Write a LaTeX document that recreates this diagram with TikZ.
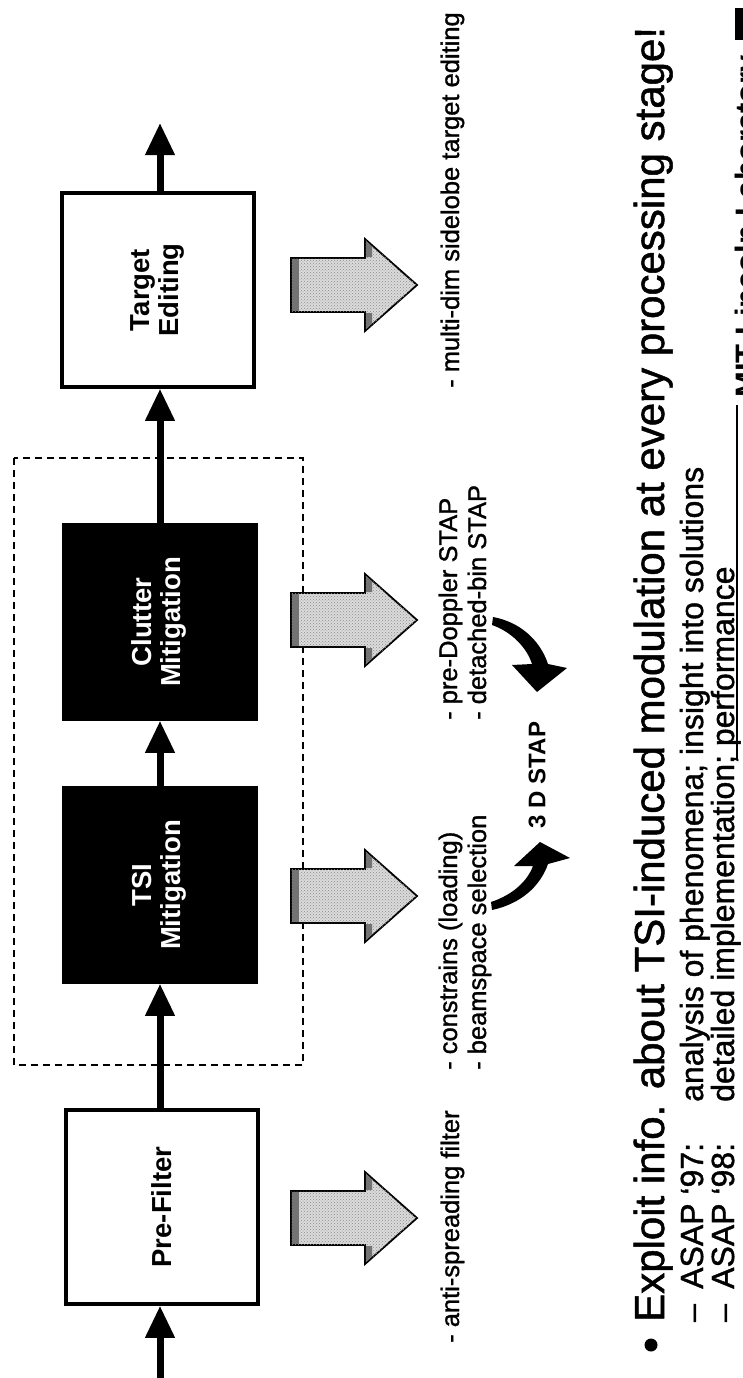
\documentclass[tikz,border=0pt]{standalone}
\usepackage{fontspec}
\setmainfont{Liberation Sans}
\newfontfamily\heavy[FakeBold=1.2]{Liberation Sans}
\usepackage{graphicx}
\usetikzlibrary{arrows.meta,patterns}
\newcommand\blkarrow[1]{%
  \draw[blk] (291,#1-27) -- (365,#1-27) -- (365,#1-46) -- (417,#1) -- (365,#1+46) -- (365,#1+27) -- (291,#1+27) -- cycle;
  \fill[black!55] (292,#1-26) rectangle (299,#1+26);
  \fill[black!55] (366,#1-44) -- (372,#1-38.5) -- (372,#1-28) -- (366,#1-28) -- cycle;
  \fill[black!55] (366,#1+44) -- (372,#1+38.5) -- (372,#1+28) -- (366,#1+28) -- cycle;
}
\begin{document}
\begin{tikzpicture}[x=1pt,y=-1pt,
  box/.style={draw=black,line width=3.5pt,minimum width=192pt,minimum height=194pt,inner sep=0pt,fill=white,
    font=\fontsize{27.5}{31}\selectfont\bfseries},
  darkbox/.style={box,fill=black,text=white},
  conn/.style={line width=7pt,-{Triangle[length=32pt,width=28pt]}},
  lbl/.style={rotate=90,anchor=base west,inner sep=0pt,font=\fontsize{25.5}{29}\heavy},
  sub/.style={rotate=90,anchor=base west,inner sep=0pt,font=\fontsize{32}{36}\heavy},
  blk/.style={draw=black,line width=1.8pt,fill=black!14,line join=miter,
    postaction={pattern=crosshatch dots,pattern color=black!45}},
  grp/.style={draw=black,line width=1.6pt,dash pattern=on 7pt off 5pt}
]
\useasboundingbox (0,0) rectangle (743,1378);
\clip (0,0) rectangle (743,1378);
\fill[white] (0,0) rectangle (743,1378);

% dashed group
\draw[grp] (14,458) rectangle (303,1065);

% boxes
\node[box] (tgt) at (158,290) {\rotatebox{90}{\begin{tabular}{@{}c@{}}Target\\[-2pt]Editing\end{tabular}}};
\node[darkbox] (clu) at (160,622) {\rotatebox{90}{\begin{tabular}{@{}c@{}}Clutter\\[-2pt]Mitigation\end{tabular}}};
\node[darkbox] (tsi) at (160,885) {\rotatebox{90}{\begin{tabular}{@{}c@{}}TSI\\[-2pt]Mitigation\end{tabular}}};
\node[box] (pre) at (162,1207) {\rotatebox{90}{Pre-Filter}};

\coordinate (in) at (160,1380);
\coordinate (out) at (160,123);
\draw[conn] (in) -- (pre.south -| in);
\draw[conn] (pre.north -| in) -- (tsi.south -| in);
\draw[conn] (tsi.north -| in) -- (clu.south -| in);
\draw[conn] (clu.north -| in) -- (tgt.south -| in);
\draw[conn] (tgt.north -| in) -- (out);

% block arrows
\blkarrow{285}
\blkarrow{620}
\blkarrow{896}
\blkarrow{1218}

% labels
\node[lbl] (l1) at (459,388) {- multi-dim sidelobe target editing};
\node[lbl] (l2a) at (457,720) {- pre-Doppler STAP};
\node[lbl] (l2b) at (486,720) {- detached-bin STAP};
\node[lbl] (l3a) at (457,1070) {- constrains (loading)};
\node[lbl] (l3b) at (486,1070) {- beamspace selection};
\node[lbl] (l4) at (459,1343) {- anti-spreading filter};

\node[rotate=90,inner sep=0pt,font=\fontsize{24}{28}\selectfont\bfseries] (stap) at (537,775) {3 D STAP};

% curved arrows
\fill (493,617) .. controls (520,622) and (540,640) .. (548,664) -- (567,668) -- (537,692) -- (512,665) -- (532,664) .. controls (527,648) and (512,632) .. (492,625) -- cycle;
\fill (492,910) .. controls (520,904) and (540,887) .. (548,864) -- (570,858) -- (540,842) -- (514,866) -- (533,866) .. controls (527,882) and (512,895) .. (491,902) -- cycle;

% bullet text
\fill (651,1345) circle (6.5);
\node[rotate=90,anchor=base west,inner sep=0pt,font=\fontsize{42}{48}\heavy] (main) at (664,1322) {Exploit info. about TSI-induced modulation at every processing stage!};
\node[sub] (d1) at (703,1322) {–};
\node[sub] (a1) at (703,1289) {ASAP ‘97:};
\node[sub] (b1) at (703,1102) {analysis of phenomena; insight into solutions};
\node[sub] (d2) at (734,1322) {–};
\node[sub] (a2) at (734,1289) {ASAP ‘98:};
\node[sub] (b2) at (734,1102) {detailed implementation; performance};

% footer
\draw[line width=2pt] (737,405) -- (737,760);
\node[rotate=90,anchor=base west,inner sep=0pt,font=\fontsize{31}{35}\selectfont\bfseries] (mit) at (757,398) {MIT Lincoln Laboratory};
\fill (735,8) rectangle (743,40);
\end{tikzpicture}
\end{document}
